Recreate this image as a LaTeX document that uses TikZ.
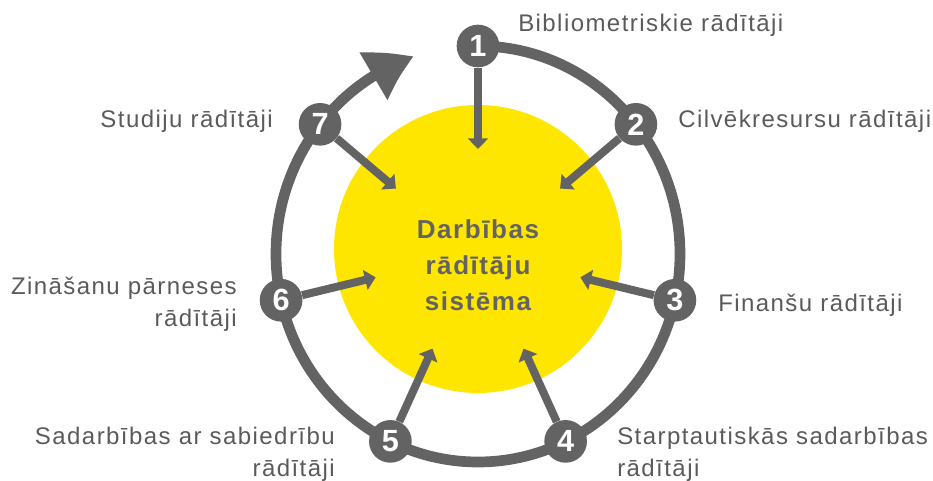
\documentclass[tikz,border=0pt]{standalone}
\usepackage{fontspec}
\setmainfont{Liberation Sans}[LetterSpace=6]
\usetikzlibrary{arrows.meta,bending,calc}
\definecolor{ringgray}{HTML}{636363}
\definecolor{textgray}{HTML}{5A5A5A}
\definecolor{eyyellow}{HTML}{FFE600}

\begin{document}
\begin{tikzpicture}[x=0.75pt,y=0.75pt,
  num/.style={circle,fill=ringgray,text=white,inner sep=0pt,minimum size=32pt,font=\fontsize{23}{23}\selectfont\bfseries},
  lbl/.style={text=textgray,font=\fontsize{18}{24}\selectfont,inner sep=0pt},
  spoke/.style={ringgray,line width=6pt,-{Triangle[width=15pt,length=8pt]}}]
\useasboundingbox (0,0) rectangle (933,481);
\coordinate (R) at (478,227);

\fill[eyyellow] (478,232) circle (144);
\draw[ringgray,line width=8pt,-{Triangle[width=39pt,length=34pt,bend]}] ($(R)+(90:202 and 208)$) arc[start angle=90,end angle=-251.5,x radius=202,y radius=208];

\foreach \i/\a in {1/90,2/38.57,3/-12.86,4/-64.29,5/-115.71,6/-167.14,7/-218.57} {
  \node[num] (n\i) at ($(R)+(\a:202 and 208)$) {\i};
  \coordinate (t\i) at ($(R)+(\a:105)$);
  \draw[spoke] (n\i) -- (t\i);
}

\node[text=ringgray,font=\fontsize{19.5}{27}\selectfont\bfseries,align=center] (sys) at (478,216) {Darbības\\rādītāju\\sistēma};

\node[lbl,anchor=base west] (l1) at (518,449) {Bibliometriskie rādītāji};
\node[lbl,anchor=base west] (l2) at (678,353) {Cilvēkresursu rādītāji};
\node[lbl,anchor=base west] (l3) at (718,169) {Finanšu rādītāji};
\node[lbl,anchor=base west,align=left] (l4) at (617,4) {Starptautiskās sadarbības\\rādītāji};
\node[lbl,anchor=base east,align=right] (l5) at (335,4) {Sadarbības ar sabiedrību\\rādītāji};
\node[lbl,anchor=base east,align=right] (l6) at (237,154) {Zināšanu pārneses\\rādītāji};
\node[lbl,anchor=base east] (l7) at (273,353) {Studiju rādītāji};
\end{tikzpicture}
\end{document}
